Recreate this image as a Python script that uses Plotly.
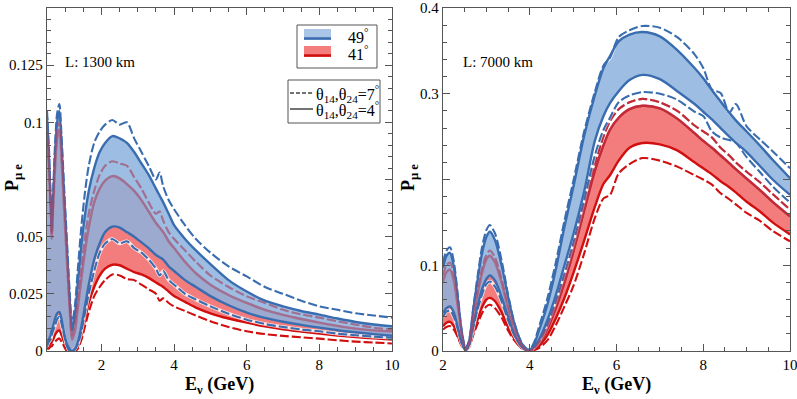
import plotly.graph_objects as go

# ---------------- data: L = 1300 km (left panel) ----------------
E_L = [0.5, 0.55, 0.6, 0.63, 0.67, 0.72, 0.78, 0.84, 0.9, 0.97,
       1.05, 1.12, 1.19, 1.27, 1.35, 1.45, 1.55, 1.65, 1.8, 1.95,
       2.1, 2.3, 2.5, 2.7, 2.9, 3.1, 3.3, 3.5, 3.6, 3.7,
       3.85, 4.0, 4.3, 4.6, 5.0, 5.5, 6.0, 6.5, 7.0, 7.5,
       8.0, 8.5, 9.0, 9.5, 10.0]
# 49 deg, theta14,theta24 = 4 deg (solid) upper / lower
B49_hi_4_L = [0.102, 0.085, 0.064, 0.052, 0.066, 0.085, 0.1, 0.105, 0.09, 0.068,
              0.044, 0.023, 0.009, 0.016, 0.03, 0.047, 0.06, 0.07, 0.08, 0.087,
              0.091, 0.094, 0.093, 0.091, 0.087, 0.082, 0.077, 0.071, 0.068, 0.065,
              0.06, 0.055, 0.049, 0.044, 0.038, 0.031, 0.026, 0.022, 0.0195, 0.0175,
              0.0159, 0.0142, 0.0127, 0.0116, 0.0108]
B49_lo_4_L = [0.003, 0.005, 0.007, 0.009, 0.011, 0.014, 0.0165, 0.017, 0.014, 0.008,
              0.003, 0.001, 0.0, 0.001, 0.004, 0.011, 0.02, 0.029, 0.04, 0.047,
              0.052, 0.0544, 0.054, 0.052, 0.05, 0.0475, 0.045, 0.042, 0.041, 0.04,
              0.037, 0.035, 0.031, 0.028, 0.024, 0.02, 0.0168, 0.0145, 0.0128, 0.0114,
              0.0102, 0.0091, 0.0082, 0.0074, 0.0067]
# 49 deg, theta = 7 deg (dashed)
B49_hi_7_L = [0.105, 0.09, 0.068, 0.056, 0.07, 0.09, 0.104, 0.108, 0.094, 0.072,
              0.048, 0.027, 0.012, 0.02, 0.036, 0.055, 0.07, 0.081, 0.091, 0.096,
              0.099, 0.101, 0.099, 0.1, 0.093, 0.087, 0.081, 0.075, 0.078, 0.072,
              0.066, 0.062, 0.055, 0.049, 0.043, 0.037, 0.0326, 0.028, 0.025, 0.022,
              0.0195, 0.018, 0.0165, 0.0155, 0.0146]
B49_lo_7_L = [0.002, 0.004, 0.005, 0.007, 0.009, 0.011, 0.014, 0.015, 0.012, 0.007,
              0.002, 0.0, 0.0, 0.001, 0.003, 0.009, 0.017, 0.025, 0.035, 0.043,
              0.047, 0.049, 0.047, 0.048, 0.045, 0.043, 0.04, 0.036, 0.033, 0.035,
              0.031, 0.029, 0.025, 0.0225, 0.0195, 0.0163, 0.0137, 0.0118, 0.0105, 0.0094,
              0.0086, 0.0076, 0.0069, 0.0063, 0.0058]
# 41 deg
R41_hi_4_L = [0.095, 0.08, 0.06, 0.049, 0.061, 0.079, 0.093, 0.097, 0.084, 0.062,
              0.039, 0.019, 0.005, 0.009, 0.019, 0.032, 0.044, 0.054, 0.065, 0.071,
              0.0745, 0.0765, 0.0755, 0.073, 0.07, 0.066, 0.061, 0.056, 0.054, 0.052,
              0.048, 0.045, 0.039, 0.034, 0.029, 0.0245, 0.021, 0.018, 0.0158, 0.014,
              0.0124, 0.011, 0.0098, 0.009, 0.0086]
R41_lo_4_L = [0.002, 0.002, 0.003, 0.004, 0.005, 0.007, 0.0085, 0.009, 0.007, 0.004,
              0.001, 0.0, 0.0, 0.0, 0.002, 0.007, 0.014, 0.021, 0.028, 0.033,
              0.036, 0.0377, 0.0375, 0.036, 0.0345, 0.0335, 0.032, 0.03, 0.029, 0.028,
              0.026, 0.024, 0.0215, 0.019, 0.0165, 0.0142, 0.0124, 0.0108, 0.0095, 0.0085,
              0.0076, 0.0068, 0.0061, 0.0055, 0.005]
R41_hi_7_L = [0.098, 0.083, 0.062, 0.051, 0.064, 0.083, 0.097, 0.1, 0.087, 0.066,
              0.042, 0.021, 0.007, 0.012, 0.023, 0.037, 0.05, 0.06, 0.07, 0.077,
              0.081, 0.083, 0.082, 0.081, 0.076, 0.071, 0.065, 0.06, 0.061, 0.057,
              0.052, 0.049, 0.044, 0.039, 0.033, 0.028, 0.0239, 0.021, 0.018, 0.016,
              0.0146, 0.013, 0.0115, 0.0102, 0.0094]
R41_lo_7_L = [0.001, 0.001, 0.002, 0.002, 0.003, 0.004, 0.005, 0.0055, 0.004, 0.002,
              0.0, 0.0, 0.0, 0.0, 0.001, 0.005, 0.011, 0.017, 0.024, 0.028,
              0.031, 0.0335, 0.033, 0.0315, 0.031, 0.029, 0.027, 0.025, 0.022, 0.023,
              0.021, 0.0195, 0.0175, 0.0155, 0.013, 0.0105, 0.0086, 0.0074, 0.0066, 0.006,
              0.0054, 0.0047, 0.0041, 0.0037, 0.0033]

# ---------------- data: L = 7000 km (right panel) ----------------
E_R = [2.0, 2.08, 2.16, 2.25, 2.35, 2.43, 2.52, 2.6, 2.7, 2.8,
       2.9, 3.0, 3.08, 3.2, 3.35, 3.5, 3.65, 3.8, 3.92, 4.0,
       4.1, 4.2, 4.4, 4.6, 4.8, 5.0, 5.25, 5.5, 5.7, 5.85,
       6.05, 6.3, 6.6, 7.0, 7.4, 7.8, 8.0, 8.2, 8.4, 8.6,
       8.75, 9.0, 9.3, 9.6, 10.0]
B49_hi_4_R = [0.097, 0.111, 0.1145, 0.098, 0.057, 0.023, 0.003, 0.011, 0.049, 0.083,
              0.114, 0.133, 0.139, 0.129, 0.100, 0.063, 0.031, 0.010, 0.002, 0.001,
              0.008, 0.022, 0.053, 0.095, 0.145, 0.19, 0.25, 0.298, 0.330, 0.344,
              0.361, 0.369, 0.372, 0.367, 0.351, 0.33, 0.318, 0.304, 0.291, 0.278,
              0.269, 0.256, 0.240, 0.223, 0.2016]
B49_lo_4_R = [0.044, 0.050, 0.052, 0.045, 0.026, 0.010, 0.001, 0.007, 0.031, 0.053,
              0.072, 0.084, 0.088, 0.082, 0.063, 0.040, 0.019, 0.006, 0.001, 0.0,
              0.005, 0.012, 0.035, 0.065, 0.1, 0.135, 0.185, 0.245, 0.274, 0.289,
              0.303, 0.316, 0.322, 0.317, 0.303, 0.288, 0.279, 0.27, 0.26, 0.25,
              0.243, 0.232, 0.216, 0.200, 0.182]
B49_hi_7_R = [0.103, 0.117, 0.121, 0.104, 0.061, 0.024, 0.003, 0.012, 0.051, 0.088,
              0.121, 0.141, 0.147, 0.137, 0.106, 0.066, 0.032, 0.011, 0.003, 0.002,
              0.01, 0.026, 0.06, 0.103, 0.152, 0.197, 0.255, 0.302, 0.333, 0.342,
              0.366, 0.374, 0.379, 0.377, 0.366, 0.346, 0.33, 0.305, 0.301, 0.278,
              0.288, 0.262, 0.247, 0.233, 0.213]
B49_lo_7_R = [0.040, 0.046, 0.047, 0.040, 0.024, 0.009, 0.001, 0.006, 0.028, 0.049,
              0.066, 0.078, 0.081, 0.075, 0.058, 0.036, 0.018, 0.006, 0.001, 0.0,
              0.004, 0.01, 0.03, 0.058, 0.09, 0.125, 0.175, 0.228, 0.258, 0.272,
              0.29, 0.298, 0.302, 0.3, 0.293, 0.279, 0.274, 0.256, 0.249, 0.246,
              0.243, 0.226, 0.209, 0.192, 0.173]
R41_hi_4_R = [0.081, 0.092, 0.095, 0.082, 0.048, 0.019, 0.002, 0.009, 0.039, 0.067,
              0.091, 0.107, 0.111, 0.103, 0.080, 0.050, 0.024, 0.008, 0.001, 0.0,
              0.003, 0.008, 0.025, 0.05, 0.08, 0.115, 0.163, 0.21, 0.24, 0.258,
              0.272, 0.282, 0.286, 0.283, 0.271, 0.254, 0.245, 0.237, 0.228, 0.219,
              0.212, 0.201, 0.188, 0.174, 0.157]
R41_lo_4_R = [0.029, 0.033, 0.034, 0.029, 0.017, 0.007, 0.001, 0.005, 0.022, 0.037,
              0.051, 0.060, 0.062, 0.058, 0.045, 0.028, 0.014, 0.004, 0.001, 0.0,
              0.002, 0.005, 0.018, 0.038, 0.062, 0.09, 0.128, 0.168, 0.195, 0.205,
              0.222, 0.237, 0.2425, 0.241, 0.234, 0.22, 0.213, 0.206, 0.198, 0.191,
              0.185, 0.174, 0.163, 0.150, 0.136]
R41_hi_7_R = [0.088, 0.100, 0.103, 0.089, 0.052, 0.021, 0.002, 0.009, 0.041, 0.070,
              0.096, 0.112, 0.117, 0.109, 0.084, 0.053, 0.026, 0.008, 0.001, 0.0,
              0.003, 0.01, 0.028, 0.055, 0.087, 0.122, 0.17, 0.218, 0.25, 0.268,
              0.282, 0.29, 0.294, 0.29, 0.28, 0.263, 0.256, 0.249, 0.237, 0.228,
              0.22, 0.209, 0.197, 0.183, 0.165]
R41_lo_7_R = [0.025, 0.028, 0.029, 0.025, 0.015, 0.006, 0.001, 0.004, 0.019, 0.032,
              0.044, 0.052, 0.054, 0.050, 0.039, 0.024, 0.012, 0.004, 0.001, 0.0,
              0.001, 0.003, 0.012, 0.03, 0.052, 0.075, 0.113, 0.155, 0.178, 0.182,
              0.207, 0.218, 0.225, 0.222, 0.215, 0.205, 0.2, 0.194, 0.184, 0.177,
              0.171, 0.161, 0.152, 0.14, 0.128]

# tick labels
YT_L = [0, 0.025, 0.05, 0.075, 0.1, 0.125, 0.15]
YT_L_TEXT = ["0", "0.025", "0.05", "", "0.1", "0.125", ""]
YT_R = [0, 0.1, 0.2, 0.3, 0.4]
YT_R_TEXT = ["0", "0.1", "", "0.3", "0.4"]
XT = [2, 4, 6, 8, 10]

# ---------------- styling ----------------
BLUE_LINE = "#3a6db0"
RED_LINE = "#d10f0f"
BLUE_FILL = "rgba(140,178,222,0.85)"
RED_FILL = "rgba(238,75,75,0.72)"
MAUVE_OVER = "rgba(175,70,100,0.5)"
FONT = "Liberation Serif"

W, H = 797, 399
ML, MR, MT, MB = 47, 7, 8, 48

fig = go.Figure()
SM = 0.8


def line(xa, ya, E, y, color, width, dash=None):
    ln = dict(width=width, color=color, shape="spline", smoothing=SM)
    if dash:
        ln["dash"] = dash
    fig.add_trace(go.Scatter(x=E, y=y, mode="lines", xaxis=xa, yaxis=ya, line=ln,
                             showlegend=False, hoverinfo="skip"))


def band(xa, ya, E, lo4, hi4, lo7, hi7, lc, fc):
    fig.add_trace(go.Scatter(x=E, y=lo4, mode="lines", xaxis=xa, yaxis=ya,
                             line=dict(width=0, shape="spline", smoothing=SM),
                             showlegend=False, hoverinfo="skip"))
    fig.add_trace(go.Scatter(x=E, y=hi4, mode="lines", xaxis=xa, yaxis=ya,
                             fill="tonexty", fillcolor=fc,
                             line=dict(width=0, shape="spline", smoothing=SM),
                             showlegend=False, hoverinfo="skip"))
    for y in (hi7, lo7):
        line(xa, ya, E, y, "rgba(255,255,255,0.8)", 3.6)
        line(xa, ya, E, y, lc, 2.1, "9px,3px")
    for y in (hi4, lo4):
        line(xa, ya, E, y, lc, 2.4)


def overlay(xa, ya, E, hi4, hi7):
    # red upper curves seen through the translucent 49-degree fill
    line(xa, ya, E, hi7, MAUVE_OVER, 2.1, "9px,3px")
    line(xa, ya, E, hi4, MAUVE_OVER, 2.4)


band("x", "y", E_L, R41_lo_4_L, R41_hi_4_L, R41_lo_7_L, R41_hi_7_L, RED_LINE, RED_FILL)
band("x", "y", E_L, B49_lo_4_L, B49_hi_4_L, B49_lo_7_L, B49_hi_7_L, BLUE_LINE, BLUE_FILL)
band("x2", "y2", E_R, R41_lo_4_R, R41_hi_4_R, R41_lo_7_R, R41_hi_7_R, RED_LINE, RED_FILL)
band("x2", "y2", E_R, B49_lo_4_R, B49_hi_4_R, B49_lo_7_R, B49_hi_7_R, BLUE_LINE, BLUE_FILL)
overlay("x", "y", E_L, R41_hi_4_L, R41_hi_7_L)
overlay("x2", "y2", E_R, R41_hi_4_R, R41_hi_7_R)

PW = W - ML - MR
PH = H - MT - MB
def px(x):
    return (x - ML) / PW
def py(y):
    return (H - MB - y) / PH

dl = [0, px(392)]
dr = [px(443), 1]

axis_common = dict(showline=True, linecolor="#555555", linewidth=1.3, mirror="ticks",
                   ticks="inside", ticklen=7, tickwidth=1, tickcolor="#555555",
                   showgrid=False, zeroline=False, automargin=False,
                   ticklabeloverflow="allow",
                   tickfont=dict(family=FONT, size=15, color="black"))

fig.update_layout(
    width=W, height=H, margin=dict(l=ML, r=MR, t=MT, b=MB, autoexpand=False),
    paper_bgcolor="white", plot_bgcolor="white", showlegend=False,
    xaxis=dict(domain=dl, range=[0.5, 10], tickvals=XT,
               minor=dict(ticks="inside", ticklen=4, tickcolor="#555555", dtick=0.5, tick0=0),
               **axis_common),
    yaxis=dict(domain=[0, 1], range=[0, 0.15], tickvals=YT_L, ticktext=YT_L_TEXT,
               minor=dict(ticks="inside", ticklen=4, tickcolor="#555555", dtick=0.005, tick0=0),
               **axis_common),
    xaxis2=dict(domain=dr, range=[2, 10], tickvals=XT, anchor="y2",
                minor=dict(ticks="inside", ticklen=4, tickcolor="#555555", dtick=0.5, tick0=0),
                **axis_common),
    yaxis2=dict(domain=[0, 1], range=[0, 0.4], tickvals=YT_R, ticktext=YT_R_TEXT, anchor="x2",
                minor=dict(ticks="inside", ticklen=4, tickcolor="#555555", dtick=0.02, tick0=0),
                **axis_common),
)

ann = []
shapes = []
tf = dict(family=FONT, color="black")


def text(x, y, s, size, xanchor="center", angle=0):
    ann.append(dict(x=px(x), y=py(y), xref="paper", yref="paper", showarrow=False,
                    xanchor=xanchor, yanchor="middle", textangle=angle, text=s,
                    font=dict(size=size, **tf)))


# axis titles
text(219, 385, "<b>E<sub>ν</sub> (GeV)</b>", 18)
text(616, 385, "<b>E<sub>ν</sub> (GeV)</b>", 18)
text(13, 178, "<b>P<sub>μ e</sub></b>", 18, angle=-90)
text(409, 178, "<b>P<sub>μ e</sub></b>", 18, angle=-90)

# baseline labels
text(63, 62, "L: 1300 km", 15, xanchor="left")
text(461, 62, "L: 7000 km", 15, xanchor="left")

# legend box 1
shapes.append(dict(type="rect", xref="paper", yref="paper", x0=px(297), x1=px(377),
                   y0=py(68), y1=py(25), line=dict(color="#555555", width=1),
                   fillcolor="white"))
for (y0, y1, fc, lc, lab) in [(29, 40, "rgb(170,198,230)", BLUE_LINE, "49<sup>°</sup>"),
                              (46, 57, "rgb(244,125,125)", RED_LINE, "41<sup>°</sup>")]:
    shapes.append(dict(type="rect", xref="paper", yref="paper", x0=px(304), x1=px(331),
                       y0=py(y1), y1=py(y0), line=dict(width=0), fillcolor=fc))
    shapes.append(dict(type="line", xref="paper", yref="paper", x0=px(304), x1=px(331),
                       y0=py(y1 - 1.5), y1=py(y1 - 1.5), line=dict(color=lc, width=2.5)))
    text(346, (y0 + y1) / 2 + 1, lab, 16, xanchor="left")

# legend box 2
shapes.append(dict(type="rect", xref="paper", yref="paper", x0=px(288), x1=px(380),
                   y0=py(123), y1=py(80), line=dict(color="#555555", width=1),
                   fillcolor="white"))
shapes.append(dict(type="line", xref="paper", yref="paper", x0=px(290), x1=px(313),
                   y0=py(93), y1=py(93), line=dict(color="#444444", width=1.3, dash="4px,2px")))
shapes.append(dict(type="line", xref="paper", yref="paper", x0=px(290), x1=px(313),
                   y0=py(109), y1=py(109), line=dict(color="#444444", width=1.5)))
text(314, 94, "θ<sub>14</sub>,θ<sub>24</sub>=7<sup>°</sup>", 16, xanchor="left")
text(314, 110, "θ<sub>14</sub>,θ<sub>24</sub>=4<sup>°</sup>", 16, xanchor="left")

fig.update_layout(annotations=ann, shapes=shapes)
fig.write_html("out.html", config={"displayModeBar": False},
               post_script="document.body.style.margin='0px';")
